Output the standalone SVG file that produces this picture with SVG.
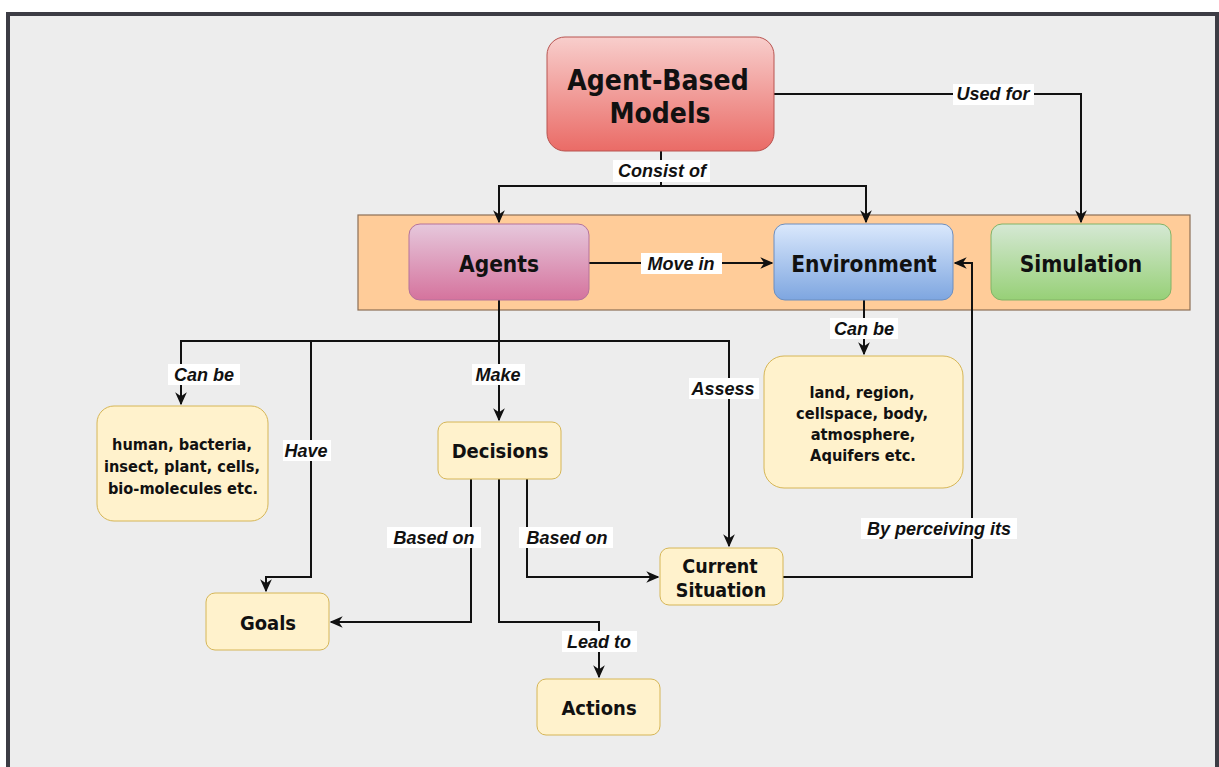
<svg xmlns="http://www.w3.org/2000/svg" width="1219" height="767" viewBox="0 0 1219 767">
<defs>
<style>
.node text{font-family:"DejaVu Sans Condensed","DejaVu Sans",sans-serif;font-stretch:condensed;font-weight:bold;fill:#111;text-anchor:middle}
.lbl rect{fill:#fff}
.lbl text{font-family:"Liberation Sans",Arial,sans-serif;font-weight:bold;font-style:italic;font-size:18px;fill:#111;text-anchor:middle}
.edge{fill:none;stroke:#111;stroke-width:2}
.y{fill:#fff2cc;stroke:#d6b656;stroke-width:1}
</style>
<linearGradient id="gRed" x1="0" y1="0" x2="0" y2="1"><stop offset="0" stop-color="#f8cecc"/><stop offset="1" stop-color="#ea6b66"/></linearGradient>
<linearGradient id="gPink" x1="0" y1="0" x2="0" y2="1"><stop offset="0" stop-color="#e6c8dc"/><stop offset="1" stop-color="#d5739d"/></linearGradient>
<linearGradient id="gBlue" x1="0" y1="0" x2="0" y2="1"><stop offset="0" stop-color="#dae8fc"/><stop offset="1" stop-color="#7ea6e0"/></linearGradient>
<linearGradient id="gGreen" x1="0" y1="0" x2="0" y2="1"><stop offset="0" stop-color="#d5e8d4"/><stop offset="1" stop-color="#97d077"/></linearGradient>
<marker id="arr" viewBox="0 0 10 10" refX="9" refY="5" markerWidth="6.5" markerHeight="6.5" markerUnits="strokeWidth" orient="auto">
<path d="M0,0.5 L10,5 L0,9.5 L3,5 z" fill="#111"/>
</marker>
</defs>
<rect x="0" y="0" width="1219" height="767" fill="#ffffff"/>
<rect x="8" y="14" width="1209" height="760" fill="#ededed" stroke="#3c3c44" stroke-width="4"/>

<g id="container">
<rect x="358" y="215" width="832" height="95" fill="#ffcc99" stroke="#8c6e55" stroke-width="1.2"/>
</g>

<g id="connectors">
<path class="edge" d="M774,94 H1081 V222" marker-end="url(#arr)"/>
<path class="edge" d="M661,151 V186"/>
<path class="edge" d="M661,186 H499 V222" marker-end="url(#arr)"/>
<path class="edge" d="M661,186 H866 V222" marker-end="url(#arr)"/>
<path class="edge" d="M589,263 H772" marker-end="url(#arr)"/>
<path class="edge" d="M499,300 V341"/>
<path class="edge" d="M499,341 H181 V404" marker-end="url(#arr)"/>
<path class="edge" d="M311,341 V577 H266 V591" marker-end="url(#arr)"/>
<path class="edge" d="M499,341 V420" marker-end="url(#arr)"/>
<path class="edge" d="M499,341 H729 V546" marker-end="url(#arr)"/>
<path class="edge" d="M864,300 V354" marker-end="url(#arr)"/>
<path class="edge" d="M471,479 V622 H331" marker-end="url(#arr)"/>
<path class="edge" d="M499,479 V622 H599 V677" marker-end="url(#arr)"/>
<path class="edge" d="M527,479 V577 H658" marker-end="url(#arr)"/>
<path class="edge" d="M783,577 H972 V263 H955" marker-end="url(#arr)"/>
</g>

<g id="labels">
<g class="lbl"><rect x="953" y="84" width="81" height="21"/><text x="993" y="100">Used for</text></g>
<g class="lbl"><rect x="613" y="160" width="97" height="22"/><text x="662" y="177">Consist of</text></g>
<g class="lbl"><rect x="641" y="253" width="81" height="21"/><text x="681" y="270">Move in</text></g>
<g class="lbl"><rect x="830" y="318" width="68" height="21"/><text x="864" y="335">Can be</text></g>
<g class="lbl"><rect x="168" y="364" width="72" height="21"/><text x="204" y="381">Can be</text></g>
<g class="lbl"><rect x="472" y="364" width="53" height="21"/><text x="498" y="381">Make</text></g>
<g class="lbl"><rect x="689" y="378" width="70" height="21"/><text x="723" y="395">Assess</text></g>
<g class="lbl"><rect x="283" y="440" width="48" height="21"/><text x="306" y="457">Have</text></g>
<g class="lbl"><rect x="387" y="527" width="94" height="21"/><text x="434" y="544">Based on</text></g>
<g class="lbl"><rect x="519" y="527" width="94" height="21"/><text x="567" y="544">Based on</text></g>
<g class="lbl"><rect x="861" y="518" width="156" height="21"/><text x="939" y="535">By perceiving its</text></g>
<g class="lbl"><rect x="562" y="631" width="75" height="21"/><text x="599" y="648">Lead to</text></g>
</g>

<g id="abm" class="node">
<rect x="547" y="37" width="227" height="114" rx="18" fill="url(#gRed)" stroke="#b85450" stroke-width="1"/>
<text x="658" y="90" font-size="28">Agent-Based</text>
<text x="660" y="123" font-size="28">Models</text>
</g>
<g id="agents" class="node">
<rect x="409" y="224" width="180" height="76" rx="11" fill="url(#gPink)" stroke="#b5739a" stroke-width="1"/>
<text x="499" y="272" font-size="22.5">Agents</text>
</g>
<g id="environment" class="node">
<rect x="774" y="224" width="179" height="76" rx="11" fill="url(#gBlue)" stroke="#6c8ebf" stroke-width="1"/>
<text x="864" y="272" font-size="22.5">Environment</text>
</g>
<g id="simulation" class="node">
<rect x="991" y="224" width="180" height="76" rx="11" fill="url(#gGreen)" stroke="#82b366" stroke-width="1"/>
<text x="1081" y="272" font-size="22.5">Simulation</text>
</g>
<g id="agent-kinds" class="node">
<rect class="y" x="97" y="406" width="171" height="115" rx="17"/>
<text x="182" y="450" font-size="16.2">human, bacteria,</text>
<text x="182" y="472" font-size="16.2">insect, plant, cells,</text>
<text x="183" y="494" font-size="16.2">bio-molecules etc.</text>
</g>
<g id="decisions" class="node">
<rect class="y" x="438" y="422" width="123" height="57" rx="9"/>
<text x="500" y="458" font-size="20">Decisions</text>
</g>
<g id="env-kinds" class="node">
<rect class="y" x="764" y="356" width="199" height="132" rx="20"/>
<text x="862" y="398" font-size="16.3">land, region,</text>
<text x="862" y="419" font-size="16.3">cellspace, body,</text>
<text x="863" y="440" font-size="16.3">atmosphere,</text>
<text x="863" y="461" font-size="16.3">Aquifers etc.</text>
</g>
<g id="current-situation" class="node">
<rect class="y" x="660" y="548" width="123" height="57" rx="9"/>
<text x="720" y="573" font-size="19.5">Current</text>
<text x="721" y="597" font-size="19.5">Situation</text>
</g>
<g id="goals" class="node">
<rect class="y" x="206" y="593" width="123" height="57" rx="9"/>
<text x="268" y="630" font-size="20">Goals</text>
</g>
<g id="actions" class="node">
<rect class="y" x="537" y="679" width="123" height="56" rx="9"/>
<text x="599" y="715" font-size="20">Actions</text>
</g>
</svg>
